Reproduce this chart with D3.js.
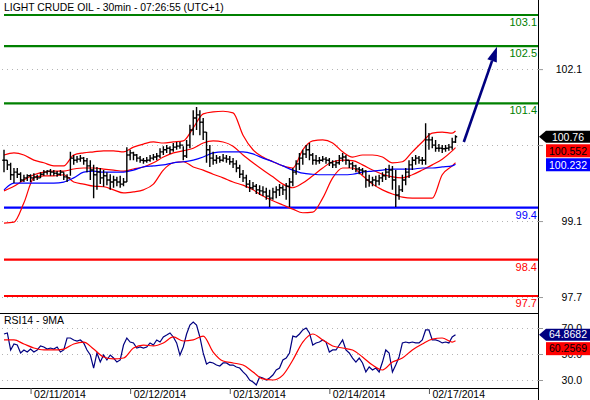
<!DOCTYPE html>
<html>
<head>
<meta charset="utf-8">
<script src="https://cdn.jsdelivr.net/npm/d3@7"></script>
<style>
  body { margin: 0; background: #fff; }
  svg { display: block; font-family: Arial, "Liberation Sans", sans-serif; }
</style>
</head>
<body>
<svg id="chart" width="590" height="400"></svg>
<script>
// 30min bars, index 0..136
const highs = [
  100.51, 100.31, 100.26, 100.16, 100.16, 100.08, 100.03, 100.04, 100.04, 100.06,
  100.03, 100.08, 100.12, 100.12, 100.14, 100.12, 100.10, 100.12, 100.08, 100.04,
  100.47, 100.41, 100.39, 100.41, 100.37, 100.35, 100.31, 100.22, 100.18, 100.16,
  100.12, 100.08, 100.04, 100.01, 99.99, 100.01, 99.97, 100.56, 100.51, 100.47,
  100.43, 100.39, 100.35, 100.37, 100.41, 100.43, 100.45, 100.54, 100.58, 100.60,
  100.58, 100.64, 100.66, 100.66, 100.58, 100.70, 100.99, 101.27, 101.33, 101.27,
  101.12, 100.85, 100.60, 100.47, 100.41, 100.39, 100.43, 100.41, 100.39, 100.35,
  100.31, 100.22, 100.12, 100.03, 99.93, 99.89, 99.85, 99.83, 99.81, 99.78,
  99.74, 99.78, 99.81, 99.85, 99.83, 99.87, 99.97, 100.16, 100.31, 100.45,
  100.51, 100.60, 100.64, 100.45, 100.41, 100.37, 100.39, 100.37, 100.35, 100.31,
  100.31, 100.41, 100.45, 100.41, 100.31, 100.28, 100.22, 100.18, 100.16, 100.12,
  100.03, 99.99, 100.01, 100.03, 100.08, 100.16, 100.22, 100.20, 100.12, 99.83,
  100.03, 100.16, 100.31, 100.37, 100.41, 100.39, 100.37, 101.02, 100.83, 100.76,
  100.70, 100.62, 100.60, 100.60, 100.62, 100.74, 100.79
];
const lows = [
  100.08, 100.12, 99.93, 99.87, 99.97, 99.89, 99.89, 99.91, 99.89, 99.91,
  99.93, 99.97, 100.01, 100.03, 100.01, 100.01, 99.99, 100.01, 99.93, 99.89,
  100.01, 100.22, 100.26, 100.28, 100.22, 100.08, 99.93, 99.58, 99.74, 99.85,
  99.80, 99.83, 99.74, 99.78, 99.81, 99.78, 99.81, 99.89, 100.31, 100.31,
  100.28, 100.26, 100.24, 100.26, 100.28, 100.31, 100.31, 100.35, 100.41, 100.45,
  100.43, 100.47, 100.51, 100.53, 100.31, 100.35, 100.54, 100.79, 100.89, 100.79,
  100.70, 100.26, 100.18, 100.22, 100.24, 100.26, 100.28, 100.26, 100.22, 100.16,
  100.08, 99.97, 99.89, 99.78, 99.70, 99.74, 99.66, 99.64, 99.62, 99.55,
  99.41, 99.55, 99.58, 99.62, 99.64, 99.55, 99.41, 99.81, 100.03, 100.12,
  100.22, 100.35, 100.31, 100.22, 100.22, 100.24, 100.28, 100.24, 100.20, 100.16,
  100.16, 100.22, 100.28, 100.22, 100.16, 100.12, 100.08, 100.04, 100.03, 99.78,
  99.80, 99.81, 99.81, 99.83, 99.89, 99.93, 99.97, 99.74, 99.41, 99.55,
  99.70, 99.83, 99.97, 100.12, 100.22, 100.24, 100.22, 100.22, 100.51, 100.54,
  100.47, 100.47, 100.45, 100.47, 100.49, 100.51, 100.64
];
const closes = [
  100.31, 100.22, 100.03, 100.08, 100.04, 99.93, 99.97, 100.01, 99.97, 99.99,
  99.97, 100.04, 100.08, 100.10, 100.08, 100.06, 100.04, 100.08, 99.99, 99.97,
  100.35, 100.31, 100.33, 100.35, 100.30, 100.20, 100.12, 100.03, 100.08, 99.97,
  100.01, 99.93, 99.89, 99.93, 99.89, 99.85, 99.89, 100.41, 100.45, 100.41,
  100.35, 100.31, 100.30, 100.31, 100.35, 100.37, 100.39, 100.47, 100.51, 100.54,
  100.51, 100.56, 100.58, 100.60, 100.39, 100.60, 100.89, 101.12, 101.18, 101.04,
  100.85, 100.51, 100.35, 100.31, 100.35, 100.31, 100.35, 100.33, 100.28, 100.24,
  100.16, 100.04, 99.97, 99.85, 99.78, 99.81, 99.74, 99.72, 99.70, 99.62,
  99.58, 99.70, 99.74, 99.78, 99.74, 99.81, 99.89, 100.08, 100.24, 100.35,
  100.43, 100.51, 100.41, 100.31, 100.30, 100.31, 100.33, 100.31, 100.26, 100.22,
  100.26, 100.35, 100.37, 100.31, 100.24, 100.20, 100.14, 100.12, 100.10, 99.93,
  99.89, 99.93, 99.91, 99.97, 100.01, 100.08, 100.12, 99.93, 99.64, 99.74,
  99.93, 100.08, 100.22, 100.31, 100.35, 100.31, 100.31, 100.70, 100.70, 100.60,
  100.54, 100.54, 100.53, 100.54, 100.56, 100.66, 100.76
];

// Bollinger bands and long MA, read every 3rd bar (plus last bar)
const bandIdx = d3.range(0, 136, 3).concat([136]);
const upperBand = [
  100.41, 100.45, 100.41, 100.31, 100.26, 100.20, 100.20, 100.41, 100.45, 100.47,
  100.49, 100.49, 100.47, 100.56, 100.62, 100.66, 100.64, 100.66, 100.68, 100.93,
  101.20, 101.24, 101.25, 101.22, 100.79, 100.51, 100.37, 100.28, 100.20, 100.16,
  100.51, 100.68, 100.70, 100.64, 100.47, 100.37, 100.41, 100.41, 100.37, 100.26,
  100.28, 100.47, 100.66, 100.83, 100.85, 100.83, 100.87
];
const midBand = [
  99.72, 99.81, 99.93, 100.03, 100.08, 100.10, 100.10, 100.14, 100.16, 100.16,
  100.14, 100.12, 100.10, 100.14, 100.18, 100.26, 100.37, 100.45, 100.49, 100.54,
  100.64, 100.68, 100.66, 100.58, 100.41, 100.26, 100.12, 99.99, 99.85, 99.78,
  99.87, 100.01, 100.16, 100.28, 100.31, 100.30, 100.22, 100.12, 100.04, 99.99,
  99.97, 100.03, 100.12, 100.22, 100.33, 100.49, 100.552
];
const lowerBand = [
  99.10, 99.12, 99.49, 99.97, 100.01, 100.01, 100.03, 99.89, 99.85, 99.81,
  99.80, 99.74, 99.68, 99.70, 99.74, 99.85, 100.12, 100.26, 100.28, 100.18,
  100.12, 100.04, 99.97, 99.89, 99.83, 99.74, 99.62, 99.53, 99.45, 99.37,
  99.30, 99.31, 99.58, 99.97, 100.16, 100.16, 100.01, 99.85, 99.74, 99.66,
  99.60, 99.58, 99.58, 99.58, 100.03, 100.20, 100.26
];
const longMa = [
  99.74, 99.87, 99.87, 99.87, 99.87, 99.87, 99.89, 99.97, 100.08, 100.10,
  100.08, 100.08, 100.08, 100.12, 100.18, 100.20, 100.22, 100.26, 100.28, 100.31,
  100.37, 100.45, 100.47, 100.47, 100.47, 100.43, 100.35, 100.28, 100.20, 100.12,
  100.06, 100.04, 100.03, 100.03, 100.03, 100.04, 100.08, 100.10, 100.12, 100.14,
  100.14, 100.14, 100.16, 100.16, 100.18, 100.20, 100.232
];

// RSI(14), one per bar, and its 9MA read every 3rd bar
const rsi = [
  65.4, 66.2, 53.1, 57.7, 56.9, 50.8, 53.1, 51.5, 53.8, 51.5,
  53.1, 56.2, 55.4, 53.8, 54.6, 53.8, 55.4, 51.5, 53.1, 62.3,
  62.3, 60.8, 60.0, 60.8, 58.5, 53.1, 49.2, 39.2, 50.8, 43.8,
  49.2, 45.4, 49.2, 46.9, 43.8, 45.4, 56.9, 62.3, 59.2, 58.5,
  54.6, 55.4, 54.6, 55.4, 58.5, 56.9, 60.8, 59.2, 63.1, 64.6,
  66.2, 63.1, 58.5, 49.2, 55.4, 65.4, 72.3, 74.6, 72.3, 63.1,
  50.8, 42.3, 43.8, 43.1, 41.5, 40.8, 43.1, 43.1, 41.5, 41.5,
  40.0, 39.2, 36.2, 33.8, 30.0, 28.5, 26.2, 32.3, 31.5, 30.0,
  31.5, 33.8, 37.7, 39.2, 45.4, 46.9, 50.8, 63.8, 63.1, 65.4,
  68.5, 70.0, 66.2, 56.9, 58.5, 59.2, 60.8, 59.2, 51.5, 53.1,
  53.1, 56.9, 60.8, 53.1, 50.8, 46.9, 43.8, 46.9, 43.1, 36.2,
  40.0, 37.7, 39.2, 36.2, 43.8, 53.1, 50.8, 36.2, 41.5, 47.7,
  58.5, 59.2, 58.5, 59.2, 58.5, 58.5, 60.8, 68.5, 68.5, 60.8,
  60.8, 60.0, 58.5, 59.2, 58.5, 63.1, 64.8682
];
const rsiMa = [
  60.8, 60.8, 57.7, 54.6, 53.1, 53.1, 53.8, 57.7, 59.2, 53.8,
  47.7, 46.2, 46.9, 54.6, 56.9, 56.2, 58.5, 63.1, 60.0, 60.8,
  63.8, 51.5, 44.6, 43.1, 41.5, 36.2, 30.8, 30.0, 33.8, 45.4,
  59.2, 65.4, 60.8, 56.2, 54.6, 53.1, 47.7, 41.5, 37.7, 43.8,
  46.9, 53.1, 57.7, 61.5, 62.3, 59.2, 60.2569
];

// horizontal levels
const resistance = [103.1, 102.5, 101.4];
const pivot = [99.4];
const support = [98.4, 97.7];

// axes
const priceTicks = [102.06, 100.6, 99.14, 97.68];
const rsiTicks = [70, 50, 30];
const dayIdx = [8, 38, 68, 98, 128];
const dayLabels = ['02/11/2014', '02/12/2014', '02/13/2014', '02/14/2014', '02/17/2014'];

// forecast arrow (bar index, price)
const arrowFrom = [138.5, 100.66];
const arrowTo = [148.5, 102.49];

const title = 'LIGHT CRUDE OIL - 30min - 07:26:55 (UTC+1)';
const rsiTitle = 'RSI14 - 9MA';

// ---------------------------------------------------------------
const svg = d3.select('#chart');
const axisX = 538;
const panelSplit = 313;
const bottomY = 388;

const x = d3.scaleLinear().domain([0, 136]).range([4, 455.5]);
const y = d3.scaleLinear().domain([97.7, 103.1]).range([296, 15]);
const yr = d3.scaleLinear().domain([30, 70]).range([380, 328]);
const fmt1 = d3.format('.1f');

svg.append('rect').attr('width', 590).attr('height', 400).attr('fill', '#fff');

// dotted grid
const grid = svg.append('g').attr('stroke', '#b4b4b4').attr('stroke-dasharray', '1,4');
grid.selectAll('.gp').data(priceTicks).join('line')
  .attr('x1', 2).attr('x2', axisX)
  .attr('y1', d => Math.round(y(d)) + 0.5).attr('y2', d => Math.round(y(d)) + 0.5);
grid.selectAll('.gr').data(rsiTicks).join('line')
  .attr('x1', 2).attr('x2', axisX)
  .attr('y1', d => Math.round(yr(d)) + 0.5).attr('y2', d => Math.round(yr(d)) + 0.5);

// level lines
const levels = [
  ...resistance.map(v => ({ v, color: '#008000' })),
  ...pivot.map(v => ({ v, color: '#0000ff' })),
  ...support.map(v => ({ v, color: '#ff0000' }))
];
const lv = svg.append('g');
lv.selectAll('line').data(levels).join('line')
  .attr('x1', 4).attr('x2', axisX)
  .attr('y1', d => y(d.v)).attr('y2', d => y(d.v))
  .attr('stroke', d => d.color).attr('stroke-width', 2.2);
lv.selectAll('text').data(levels).join('text')
  .attr('x', axisX - 1).attr('y', d => y(d.v) + 11)
  .attr('text-anchor', 'end').attr('font-size', 11)
  .attr('fill', d => d.color).text(d => fmt1(d.v));

// title
svg.append('text').attr('x', 4).attr('y', 11).attr('font-size', 10.4)
  .attr('fill', '#000').text(title);

// bands
const bandLine = d3.line().x((d, i) => x(bandIdx[i])).y(d => y(d)).curve(d3.curveMonotoneX);
[[upperBand, '#ff0000'], [midBand, '#ff0000'], [lowerBand, '#ff0000'], [longMa, '#0000ff']]
  .forEach(([s, c]) => {
    svg.append('path').datum(s).attr('d', bandLine)
      .attr('fill', 'none').attr('stroke', c).attr('stroke-width', 1.2);
  });

// price bars
const bars = closes.map((c, i) => ({ i, h: highs[i], l: lows[i], c, o: i ? closes[i - 1] : c }));
svg.append('g').selectAll('path').data(bars).join('path')
  .attr('d', d => {
    const px = x(d.i);
    return `M${px},${y(d.h)}V${y(d.l)}M${px - 1.7},${y(d.o)}H${px}M${px},${y(d.c)}H${px + 1.7}`;
  })
  .attr('fill', 'none').attr('stroke', '#000').attr('stroke-width', 1.4);

// arrow
const ax0 = x(arrowFrom[0]), ay0 = y(arrowFrom[1]);
const ax1 = x(arrowTo[0]), ay1 = y(arrowTo[1]);
const ang = Math.atan2(ay1 - ay0, ax1 - ax0);
const hl = 15, hw = 5;
const bx = ax1 - hl * Math.cos(ang), by = ay1 - hl * Math.sin(ang);
svg.append('line').attr('x1', ax0).attr('y1', ay0).attr('x2', bx).attr('y2', by)
  .attr('stroke', '#000080').attr('stroke-width', 2.6);
svg.append('path')
  .attr('d', `M${ax1},${ay1}L${bx - hw * Math.sin(ang)},${by + hw * Math.cos(ang)}L${bx + hw * Math.sin(ang)},${by - hw * Math.cos(ang)}Z`)
  .attr('fill', '#000080');

// RSI panel
svg.append('text').attr('x', 4).attr('y', 324).attr('font-size', 10.5).text(rsiTitle);
const rsiLine = d3.line().x((d, i) => x(i)).y(d => yr(d));
svg.append('path').datum(rsi).attr('d', rsiLine)
  .attr('fill', 'none').attr('stroke', '#000080').attr('stroke-width', 1.2);
const rsiMaLine = d3.line().x((d, i) => x(bandIdx[i])).y(d => yr(d)).curve(d3.curveMonotoneX);
svg.append('path').datum(rsiMa).attr('d', rsiMaLine)
  .attr('fill', 'none').attr('stroke', '#ff0000').attr('stroke-width', 1.2);

// frame lines
const frame = svg.append('g').attr('stroke', '#000').attr('stroke-width', 1);
frame.append('line').attr('x1', axisX + 0.5).attr('x2', axisX + 0.5).attr('y1', 0).attr('y2', 400);
frame.append('line').attr('x1', 0).attr('x2', axisX).attr('y1', panelSplit + 0.5).attr('y2', panelSplit + 0.5);
frame.append('line').attr('x1', 0).attr('x2', axisX).attr('y1', bottomY + 0.5).attr('y2', bottomY + 0.5);

// value tags: stack positions first so covered axis labels can be skipped
function stackTags(list, scale) {
  let prev = -Infinity;
  list.forEach(t => {
    t.yc = Math.max(scale(t.v), prev + 14);
    prev = t.yc;
  });
  return list;
}
const mainTags = stackTags([
  { v: closes[closes.length - 1], fill: '#000', color: '#fff', pointer: true },
  { v: midBand[midBand.length - 1], fill: '#ff0000', color: '#000' },
  { v: longMa[longMa.length - 1], fill: '#0000ff', color: '#fff' }
], y);
const rsiTags = stackTags([
  { v: rsi[rsi.length - 1], fill: '#000080', color: '#fff', pointer: true },
  { v: rsiMa[rsiMa.length - 1], fill: '#ff0000', color: '#000' }
], yr);

// right axes
function styleRight(g, hideNear) {
  g.attr('font-family', null).attr('font-size', null);
  g.select('.domain').remove();
  g.selectAll('.tick line').attr('stroke', '#999');
  g.selectAll('.tick text').attr('x', 44).attr('text-anchor', 'end')
    .attr('font-size', 10.5).attr('fill', '#000');
  if (hideNear) {
    g.selectAll('.tick').filter(function () {
      const ty = +this.getAttribute('transform').match(/,([\d.]+)\)/)[1];
      return hideNear.some(t => Math.abs(t.yc - ty) < 9);
    }).select('text').remove();
  }
}
svg.append('g').attr('transform', `translate(${axisX},0)`)
  .call(d3.axisRight(y).tickValues(priceTicks).tickFormat(fmt1).tickSize(5))
  .call(styleRight, mainTags);
svg.append('g').attr('transform', `translate(${axisX},0)`)
  .call(d3.axisRight(yr).tickValues(rsiTicks).tickFormat(fmt1).tickSize(5))
  .call(styleRight, null);

// bottom axis
const gx = svg.append('g').attr('transform', `translate(0,${bottomY})`)
  .call(d3.axisBottom(x).tickValues(dayIdx).tickFormat((d, i) => dayLabels[i]).tickSize(6));
gx.attr('font-family', null).attr('font-size', null);
gx.select('.domain').remove();
gx.selectAll('.tick line').attr('stroke', '#555');
gx.selectAll('.tick text').attr('x', 3).attr('y', 3).attr('text-anchor', 'start')
  .attr('font-size', 10.5).attr('fill', '#000');

function drawTags(list) {
  list.forEach(t => {
    const yc = t.yc;
    const g = svg.append('g');
    if (t.pointer) {
      g.append('path')
        .attr('d', `M${axisX + 1},${yc}L${axisX + 8},${yc - 6}H590V${yc + 6}H${axisX + 8}Z`)
        .attr('fill', t.fill);
    } else {
      g.append('rect').attr('x', axisX + 8).attr('y', yc - 6.5)
        .attr('width', 590 - axisX - 8).attr('height', 13).attr('fill', t.fill);
    }
    g.append('text').attr('x', 568).attr('y', yc).attr('dy', '0.36em')
      .attr('text-anchor', 'middle').attr('font-size', 10.5)
      .attr('fill', t.color).text(String(t.v));
  });
}
drawTags(mainTags);
drawTags(rsiTags);
</script>
</body>
</html>
